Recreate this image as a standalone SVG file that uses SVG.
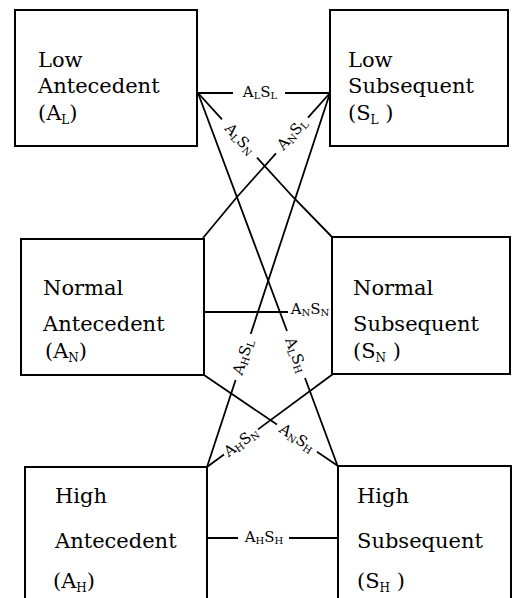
<svg xmlns="http://www.w3.org/2000/svg" width="512" height="598" viewBox="0 0 512 598">
<style>
.box{fill:none;stroke:#000;stroke-width:2}
.ln{fill:none;stroke:#000;stroke-width:1.8;stroke-linejoin:miter}
.t{font-family:"DejaVu Serif","Liberation Serif",serif;font-size:21px;fill:#000}
.sub{font-size:12px}
.lb{font-family:"DejaVu Serif","Liberation Serif",serif;font-size:15px;fill:#000;text-anchor:middle}
.ls{font-size:10px}
</style>
<rect width="512" height="598" fill="#fff"/>
<g id="connectors">
<!-- A_L S_L -->
<path class="ln" d="M198,93 H233 M285,93 H329"/>
<!-- A_L S_N -->
<path class="ln" d="M198,93 L222,119.3 M257,157.6 L293,197 L332,237"/>
<!-- A_N S_L -->
<path class="ln" d="M330,93 L308,117.6 M276,153.4 L237,197 L203,238"/>
<!-- A_L S_H -->
<path class="ln" d="M198,93 L287,331 M305,378 L338,467"/>
<!-- A_H S_L -->
<path class="ln" d="M330,93 L250.7,334 M235.6,380 L207,467"/>
<!-- A_N S_N -->
<path class="ln" d="M204,312 H288"/>
<!-- A_N S_H -->
<path class="ln" d="M204,375 L277,424.6 M317,451.7 L338,466"/>
<!-- A_H S_N -->
<path class="ln" d="M333,374 L258,429.4 M224,454.5 L207,467"/>
<!-- A_H S_H -->
<path class="ln" d="M208,538 H238 M289,538 H337"/>
<text class="lb" x="260" y="97">A<tspan class="ls" dy="2">L</tspan><tspan dy="-2">S</tspan><tspan class="ls" dy="2">L</tspan></text>
<text class="lb" transform="translate(240,139) rotate(47.6)" y="5">A<tspan class="ls" dy="2">L</tspan><tspan dy="-2">S</tspan><tspan class="ls" dy="2">N</tspan></text>
<text class="lb" transform="translate(292,134) rotate(-48.2)" y="5">A<tspan class="ls" dy="2">N</tspan><tspan dy="-2">S</tspan><tspan class="ls" dy="2">L</tspan></text>
<text class="lb" x="310" y="314">A<tspan class="ls" dy="2">N</tspan><tspan dy="-2">S</tspan><tspan class="ls" dy="2">N</tspan></text>
<text class="lb" transform="translate(243,357) rotate(-71.8)" y="5">A<tspan class="ls" dy="2">H</tspan><tspan dy="-2">S</tspan><tspan class="ls" dy="2">L</tspan></text>
<text class="lb" transform="translate(296,355) rotate(69.6)" y="5">A<tspan class="ls" dy="2">L</tspan><tspan dy="-2">S</tspan><tspan class="ls" dy="2">H</tspan></text>
<text class="lb" transform="translate(241,442) rotate(-36.4)" y="5">A<tspan class="ls" dy="2">H</tspan><tspan dy="-2">S</tspan><tspan class="ls" dy="2">N</tspan></text>
<text class="lb" transform="translate(297,438) rotate(34.2)" y="5">A<tspan class="ls" dy="2">N</tspan><tspan dy="-2">S</tspan><tspan class="ls" dy="2">H</tspan></text>
<text class="lb" x="264" y="542">A<tspan class="ls" dy="2">H</tspan><tspan dy="-2">S</tspan><tspan class="ls" dy="2">H</tspan></text>
</g>
<g id="low-antecedent">
<rect class="box" x="15" y="10" width="182" height="136"/>
<text class="t" x="38" y="67">Low</text>
<text class="t" x="38" y="93">Antecedent</text>
<text class="t" x="38" y="120">(A<tspan class="sub" dy="4">L</tspan><tspan dy="-4">)</tspan></text>
</g>
<g id="low-subsequent">
<rect class="box" x="330" y="10" width="178" height="136"/>
<text class="t" x="348" y="67">Low</text>
<text class="t" x="348" y="93">Subsequent</text>
<text class="t" x="348" y="120">(S<tspan class="sub" dy="4">L</tspan><tspan dy="-4"> )</tspan></text>
</g>
<g id="normal-antecedent">
<rect class="box" x="21" y="239" width="183" height="136"/>
<text class="t" x="43" y="295">Normal</text>
<text class="t" x="43" y="331">Antecedent</text>
<text class="t" x="45" y="358">(A<tspan class="sub" dy="4">N</tspan><tspan dy="-4">)</tspan></text>
</g>
<g id="normal-subsequent">
<rect class="box" x="332" y="237" width="178" height="137"/>
<text class="t" x="353" y="295">Normal</text>
<text class="t" x="353" y="331">Subsequent</text>
<text class="t" x="353" y="358">(S<tspan class="sub" dy="4">N</tspan><tspan dy="-4"> )</tspan></text>
</g>
<g id="high-antecedent">
<rect class="box" x="25" y="467" width="182" height="145"/>
<text class="t" x="55" y="503">High</text>
<text class="t" x="55" y="548">Antecedent</text>
<text class="t" x="53" y="588">(A<tspan class="sub" dy="4">H</tspan><tspan dy="-4">)</tspan></text>
</g>
<g id="high-subsequent">
<rect class="box" x="338" y="466" width="173" height="145"/>
<text class="t" x="357" y="503">High</text>
<text class="t" x="357" y="548">Subsequent</text>
<text class="t" x="357" y="588">(S<tspan class="sub" dy="4">H</tspan><tspan dy="-4"> )</tspan></text>
</g>
</svg>
